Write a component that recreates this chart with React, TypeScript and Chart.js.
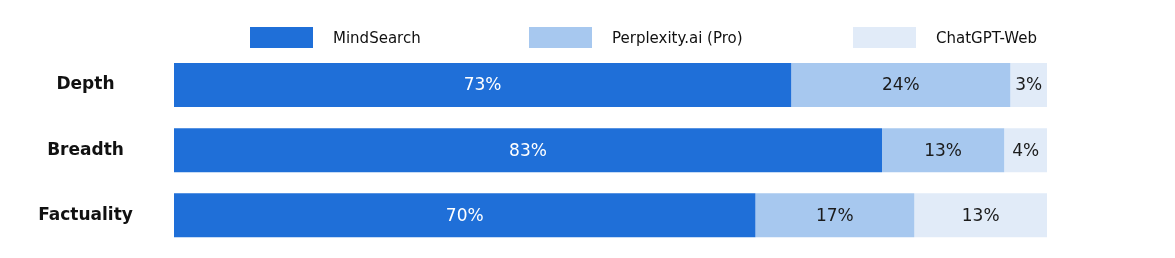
import React, { useEffect, useRef } from "react";
import { Chart, registerables } from "chart.js";

Chart.register(...registerables);

const categories = ["Depth", "Breadth", "Factuality"];
const seriesNames = ["MindSearch", "Perplexity.ai (Pro)", "ChatGPT-Web"];
// bar lengths as drawn in the picture (share of the full bar)
const mindSearch = [70.7, 81.1, 66.6];
const perplexity = [25.1, 14.0, 18.2];
const chatgpt = [4.2, 4.9, 15.2];
// percentages printed inside the bars
const mindSearchLabels = ["73%", "83%", "70%"];
const perplexityLabels = ["24%", "13%", "17%"];
const chatgptLabels = ["3%", "4%", "13%"];

const colors = ["#1f6fd8", "#a7c8ef", "#e1ebf8"];
const textColors = ["#ffffff", "#1b1b1b", "#1b1b1b"];
const FONT = "'DejaVu Sans', sans-serif";

const legendLefts = [250, 529, 853];

export default function App() {
  const ref = useRef<HTMLCanvasElement | null>(null);

  useEffect(() => {
    const canvas = ref.current;
    if (!canvas) return;
    const ctx = canvas.getContext("2d")!;
    ctx.font = `bold 17px ${FONT}`;
    const widest = Math.max(...categories.map((c) => ctx.measureText(c).width));
    const tickPad = 88.5 - widest / 2;

    const labelSets = [mindSearchLabels, perplexityLabels, chatgptLabels];

    const barLabels = {
      id: "barLabels",
      afterDatasetsDraw(chart: any) {
        const c = chart.ctx;
        c.save();
        c.font = `17px ${FONT}`;
        c.textAlign = "center";
        c.textBaseline = "middle";
        chart.data.datasets.forEach((ds: any, di: number) => {
          const meta = chart.getDatasetMeta(di);
          meta.data.forEach((bar: any, i: number) => {
            c.fillStyle = textColors[di];
            c.fillText(labelSets[di][i], (bar.x + bar.base) / 2, bar.y + 1);
          });
        });
        c.restore();
      },
    };

    const chart = new Chart(canvas, {
      type: "bar",
      data: {
        labels: categories,
        datasets: [mindSearch, perplexity, chatgpt].map((d, i) => ({
          label: seriesNames[i],
          data: d,
          backgroundColor: colors[i],
          borderWidth: 0,
          barPercentage: 0.675,
          categoryPercentage: 1,
        })),
      },
      options: {
        indexAxis: "y",
        responsive: false,
        animation: false,
        layout: { padding: { top: 52.4, bottom: 10.1, right: 128, left: 0 } },
        plugins: { legend: { display: false }, tooltip: { enabled: false } },
        scales: {
          x: { stacked: true, min: 0, max: 100, display: false },
          y: {
            stacked: true,
            grid: { display: false, drawTicks: false },
            border: { display: false },
            ticks: {
              crossAlign: "center",
              padding: tickPad,
              color: "#111111",
              font: { family: FONT, size: 17, weight: "bold" },
            },
            afterFit(scale: any) {
              scale.width = 174;
              scale.paddingTop = 0;
              scale.paddingBottom = 0;
            },
          },
        },
      },
      plugins: [barLabels],
    });
    return () => chart.destroy();
  }, []);

  return (
    <div style={{ position: "absolute", left: 0, top: 0, width: 1175, height: 258, background: "#fff" }}>
      <canvas ref={ref} width={1175} height={258} style={{ position: "absolute", left: 0, top: 0, width: 1175, height: 258 }} />
      {seriesNames.map((name, i) => (
        <div
          key={name}
          style={{
            position: "absolute",
            left: legendLefts[i],
            top: 27,
            height: 21,
            display: "flex",
            alignItems: "center",
            fontFamily: FONT,
            fontSize: 15,
            color: "#111111",
            whiteSpace: "nowrap",
          }}
        >
          <span style={{ display: "inline-block", width: 63, height: 21, background: colors[i], marginRight: 20 }} />
          <span>{name}</span>
        </div>
      ))}
    </div>
  );
}
